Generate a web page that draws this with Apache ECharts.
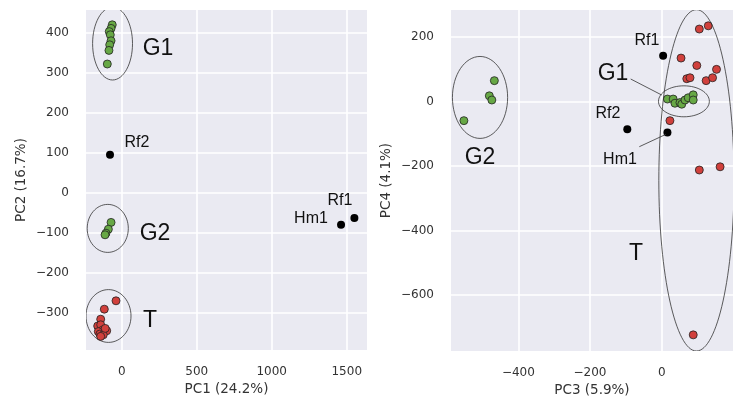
<!DOCTYPE html>
<html><head><meta charset="utf-8">
<script src="https://cdn.jsdelivr.net/npm/echarts@6/dist/echarts.min.js"></script>
<style>html,body{margin:0;padding:0;background:#fff}#c{width:735px;height:397px}</style>
</head><body><div id="c"></div>
<script>
// ---- Data (left panel: PC1 vs PC2) ----
const g1_pc1 = [-63, -71, -83, -76, -71, -80, -85, -96];
const g1_pc2 = [421, 412, 404, 396, 381, 371, 357, 323];
const g2_pc1 = [-71, -89, -105, -111];
const g2_pc2 = [-73, -90, -100, -104];
const t_pc1 = [-38, -116, -140, -160, -140, -127, -100, -156, -145, -123, -140, -110];
const t_pc2 = [-269, -290, -315, -332, -329, -342, -344, -346, -352, -354, -358, -338];
const ref_names = ['Rf2', 'Rf1', 'Hm1'];
const ref_pc1 = [-78, 1551, 1462];
const ref_pc2 = [96, -62, -79];

// ---- Data (right panel: PC3 vs PC4) ----
const g1_pc3 = [16, 32, 37, 51, 56, 65, 74, 88, 88];
const g1_pc4 = [8, 8, -5, -3, -8, 5, 12, 21, 5];
const g2_pc3 = [-467, -481, -474, -552];
const g2_pc4 = [65, 18, 5, -59];
const t_pc3 = [105, 130, 54, 98, 153, 70, 79, 124, 142, 23, 105, 163, 88];
const t_pc4 = [225, 235, 135, 112, 100, 71, 74, 65, 74, -59, -212, -202, -723];
const ref_pc3 = [-96, 4, 16];
const ref_pc4 = [-86, 142, -96];

// group ellipses (center x, center y, radius x, radius y) in data units
const ellLeft = [[-61, 374, 133, 91], [-93, -88, 137, 60], [-88, -307, 150, 66]];
const ellRight = [[-507, 13, 77, 127], [62, 1, 71, 48], [97, -244, 105, 529]];

// tick values
const ticksPC1 = [0, 500, 1000, 1500];
const ticksPC2 = [-300, -200, -100, 0, 100, 200, 300, 400];
const ticksPC3 = [-400, -200, 0];
const ticksPC4 = [-600, -400, -200, 0, 200];

const GREEN = '#67a845', RED = '#d1403c';
const zip = (a, b) => a.map((v, i) => [v, b[i]]);
const minus = v => String(v).replace('-', '\u2212');
const tickFont = {fontFamily: 'DejaVu Sans', fontSize: 12, color: '#333'};
const nameFont = {fontFamily: 'DejaVu Sans', fontSize: 13.5, color: '#333'};

function axis(grid, name, min, max, ticks, isX) {
  return {
    type: 'value', gridIndex: grid, min, max, name,
    nameLocation: 'middle', nameGap: isX ? 32 : 58, nameTextStyle: nameFont,
    axisLine: {show: false},
    axisTick: {show: false, customValues: ticks},
    axisLabel: Object.assign({customValues: ticks, formatter: minus, margin: isX ? 16 : 17}, tickFont),
    splitLine: {show: true, lineStyle: {color: '#ffffff', width: 1.6}}
  };
}

function pts(name, xi, yi, data, color, border) {
  return {
    type: 'scatter', name, xAxisIndex: xi, yAxisIndex: yi, data,
    symbolSize: 8, z: 3,
    itemStyle: {color, borderColor: '#222', borderWidth: border ? 0.8 : 0, opacity: 1}
  };
}
function ellipses(xi, yi, data) {
  return {
    type: 'custom', xAxisIndex: xi, yAxisIndex: yi, data, clip: true, z: 4, silent: true,
    renderItem(params, api) {
      const c = api.coord([api.value(0), api.value(1)]);
      const s = api.size([api.value(2), api.value(3)]);
      return {type: 'ellipse', shape: {cx: c[0], cy: c[1], rx: s[0], ry: s[1]},
              style: {fill: 'none', stroke: '#333', lineWidth: 0.8}};
    }
  };
}

const annFont = 'Liberation Sans';
function txt(x, y, text, size) {
  return {type: 'text', x, y, z: 10,
    style: {text, font: size + 'px "' + annFont + '"', fill: '#111', textAlign: 'center', textVerticalAlign: 'middle'}};
}
function ln(x1, y1, x2, y2) {
  return {type: 'line', z: 10, shape: {x1, y1, x2, y2}, style: {stroke: '#333', lineWidth: 0.8}};
}

const chart = echarts.init(document.getElementById('c'), null, {renderer: 'canvas'});
chart.setOption({
  animation: false,
  backgroundColor: '#ffffff',
  grid: [
    {left: 86, top: 10, width: 281, height: 340, show: true, backgroundColor: '#EAEAF2', borderWidth: 0,
     containLabel: false, outerBoundsMode: 'none'},
    {left: 451, top: 10, width: 282, height: 341, show: true, backgroundColor: '#EAEAF2', borderWidth: 0,
     containLabel: false, outerBoundsMode: 'none'}
  ],
  xAxis: [axis(0, 'PC1 (24.2%)', -238, 1635, ticksPC1, true), axis(1, 'PC3 (5.9%)', -588, 199, ticksPC3, true)],
  yAxis: [axis(0, 'PC2 (16.7%)', -392, 458, ticksPC2, false), axis(1, 'PC4 (4.1%)', -773, 284, ticksPC4, false)],
  series: [
    pts('G1', 0, 0, zip(g1_pc1, g1_pc2), GREEN, true),
    pts('G2', 0, 0, zip(g2_pc1, g2_pc2), GREEN, true),
    pts('T', 0, 0, zip(t_pc1, t_pc2), RED, true),
    pts('Ref', 0, 0, zip(ref_pc1, ref_pc2), '#000', false),
    pts('G1', 1, 1, zip(g1_pc3, g1_pc4), GREEN, true),
    pts('G2', 1, 1, zip(g2_pc3, g2_pc4), GREEN, true),
    pts('T', 1, 1, zip(t_pc3, t_pc4), RED, true),
    pts('Ref', 1, 1, zip(ref_pc3, ref_pc4), '#000', false),
    ellipses(0, 0, ellLeft),
    ellipses(1, 1, ellRight)
  ],
  graphic: [
    txt(158, 49, 'G1', 23), txt(137, 143, ref_names[0], 16), txt(155, 234, 'G2', 23),
    txt(150, 321, 'T', 23), txt(340, 201, ref_names[1], 16), txt(311, 219, ref_names[2], 16),
    txt(647, 41, ref_names[1], 16), txt(613, 74, 'G1', 23), txt(608, 114, ref_names[0], 16),
    txt(620, 160, ref_names[2], 16), txt(480, 158, 'G2', 23), txt(636, 254, 'T', 23),
    ln(630.7, 79, 661.7, 95), ln(639.3, 146.7, 666, 134.3)
  ]
});
</script></body></html>
